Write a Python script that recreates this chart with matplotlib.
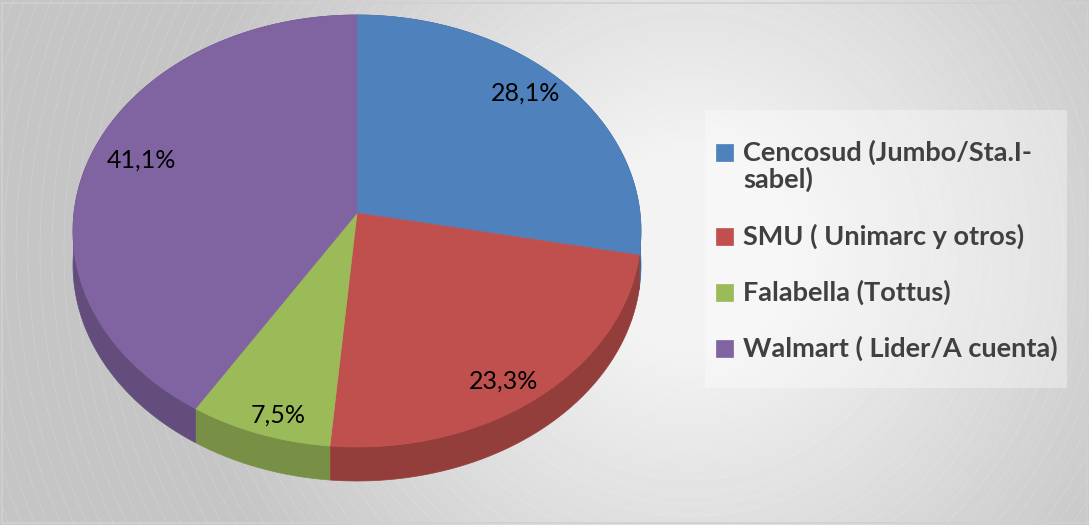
import numpy as np
import matplotlib.pyplot as plt
from matplotlib.patches import Polygon, Rectangle, Circle

labels = ["Cencosud (Jumbo/Sta.I-\nsabel)", "SMU ( Unimarc y otros)",
          "Falabella (Tottus)", "Walmart ( Lider/A cuenta)"]
shares = [28.1, 23.3, 7.5, 41.1]
pct_text = ["28,1%", "23,3%", "7,5%", "41,1%"]
colors = ["#4f81bd", "#c0504d", "#9bbb59", "#8064a2"]

W, H = 1089, 525
fig = plt.figure(figsize=(W / 100, H / 100), dpi=100)
ax = fig.add_axes([0, 0, 1, 1])
ax.set_xlim(0, W)
ax.set_ylim(H, 0)
ax.axis("off")

# radial gray background
yy, xx = np.mgrid[0:H, 0:W]
d = np.hypot(xx - 690, yy - 250)
t = np.clip((d - 100) / 420, 0, 1)
bg = 0.95 - 0.18 * t
ax.imshow(bg, cmap="gray", vmin=0, vmax=1, extent=(0, W, H, 0), zorder=0)
for r in np.arange(230, 950, 12):
    ax.add_patch(Circle((690, 250), r, fill=False, ec="white", lw=0.5,
                        alpha=0.3, ls=(0, (3, 2)), zorder=0.5))

# perspective pie
cx, cy = 357, 213
A, B, g = 283, 214.5, 0.0833
depth = 34


def proj(u, v):
    den = 1 + g * v
    return cx + A * u / den, cy - B * v / den


def shade(hexc, f=0.77):
    c = np.array([int(hexc[i:i + 2], 16) for i in (1, 3, 5)]) / 255
    return tuple(c * f)


bounds = 90 - 360 * np.concatenate([[0], np.cumsum(shares)]) / 100
for i in range(len(shares)):
    ph = np.radians(np.linspace(bounds[i], bounds[i + 1], 200))
    x, y = proj(np.cos(ph), np.sin(ph))
    side = np.concatenate([np.c_[x, y], np.c_[x, y + depth][::-1]])
    ax.add_patch(Polygon(side, closed=True, fc=shade(colors[i]),
                         ec=shade(colors[i]), lw=0.5, zorder=2))
for i in range(len(shares)):
    ph = np.radians(np.linspace(bounds[i], bounds[i + 1], 200))
    x, y = proj(np.cos(ph), np.sin(ph))
    top = np.concatenate([[[cx, cy]], np.c_[x, y]])
    ax.add_patch(Polygon(top, closed=True, fc=colors[i], ec=colors[i],
                         lw=0.5, zorder=3))
    mid = np.radians((bounds[i] + bounds[i + 1]) / 2)
    lx, ly = proj(0.81 * np.cos(mid), 0.92 * np.sin(mid))
    ax.text(lx, ly, pct_text[i], ha="center", va="center", fontsize=18,
            family="Lato", color="black", zorder=4)

# legend box
ax.add_patch(Rectangle((705, 110), 362, 278, fc="white", ec="none",
                       alpha=0.35, zorder=1))
ly0 = [152, 236, 292, 348]
for i in range(len(labels)):
    ax.add_patch(Rectangle((716, ly0[i] - 8.5), 17, 17, fc=colors[i],
                           ec=colors[i], lw=0.5, zorder=4))
    nl = labels[i].count("\n")
    ax.text(743, ly0[i] + nl * 14, labels[i], ha="left", va="center",
            fontsize=19.5, family="Lato", weight="bold", color="#404040",
            linespacing=1.05, zorder=4)

ax.add_patch(Rectangle((1.5, 2.5), W - 4, H - 5, fill=False, ec="#d0d0d0",
                       lw=1.2, zorder=5))

fig.savefig("out.png", dpi=100)
